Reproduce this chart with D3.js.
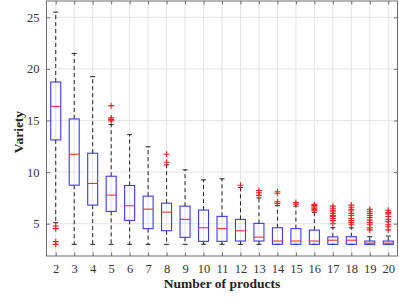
<!DOCTYPE html>
<html><head><meta charset="utf-8">
<script src="https://cdn.jsdelivr.net/npm/d3@7"></script>
<style>body{margin:0;background:#fff;}svg{display:block;}</style>
</head><body>
<svg id="chart" width="399" height="299"></svg>
<script>
const categories = [2,3,4,5,6,7,8,9,10,11,12,13,14,15,16,17,18,19,20];
const whiskerLow = [5.1,3.0,3.0,3.0,3.0,3.0,3.0,3.0,3.0,3.0,3.0,3.0,3.0,3.0,3.0,3.0,3.0,3.0,3.0];
const q1 = [13.12,8.73,6.8,6.19,5.32,4.52,4.32,3.68,3.29,3.29,3.32,3.32,3.0,3.0,3.0,3.0,3.0,3.0,3.0];
const medians = [16.37,11.73,8.9,7.77,6.74,6.41,6.12,5.42,4.61,4.52,4.32,3.7,3.32,3.32,3.32,3.4,3.4,3.12,3.12];
const q3 = [18.73,15.15,11.83,9.6,8.7,7.67,6.99,6.7,6.32,5.71,5.42,5.03,4.61,4.52,4.38,3.72,3.74,3.32,3.32];
const whiskerHigh = [25.5,21.5,19.25,14.6,13.63,12.45,10.7,10.22,9.25,9.35,8.5,7.5,6.75,6.7,6.1,4.61,4.6,3.74,3.8];
const outliers = [
  [4.77,4.52,3.26,3.0],
  [], [],
  [16.44,15.25,15.09,14.96],
  [], [],
  [11.73,10.96],
  [], [], [],
  [8.73],
  [8.22,8.0,7.74],
  [8.1,7.95,7.13,6.97],
  [7.05,6.9],
  [6.87,6.75,6.62,6.5,6.37,6.25],
  [6.7,6.5,6.3,6.2,6.0,5.8,5.7,5.5,5.3,5.0],
  [6.8,6.6,6.4,6.25,6.0,5.8,5.5,5.3,5.1,4.9],
  [6.4,6.2,6.0,5.8,5.6,5.35,5.1,4.9,4.6,4.4],
  [6.3,6.1,5.95,5.7,5.4,5.2,4.9,4.7,4.4]
];
const yTicks = [5,10,15,20,25];
const xLabel = "Number of products";
const yLabel = "Variety";

const svg = d3.select("#chart");
const L = 46.5, R = 397.5, T = 1, B = 256;
const x = d3.scaleLinear().domain([1.5, 20.5]).range([L, R]);
const y = d3.scaleLinear().domain([1.87, 26.58]).range([B, T]);
const font = "'Liberation Serif','Times New Roman',serif";

// grid
svg.append("g").selectAll("line.gx").data(categories).join("line")
  .attr("x1", d => x(d)).attr("x2", d => x(d)).attr("y1", T).attr("y2", B)
  .attr("stroke", "#e3e3e3").attr("stroke-width", 1);
svg.append("g").selectAll("line.gy").data(yTicks).join("line")
  .attr("x1", L).attr("x2", R).attr("y1", d => y(d)).attr("y2", d => y(d))
  .attr("stroke", "#e3e3e3").attr("stroke-width", 1);

// axes
const axColor = "#6e6e6e";
const xAxisB = d3.axisBottom(x).tickValues(categories).tickSizeInner(-3.5).tickSizeOuter(0).tickPadding(8);
const gxB = svg.append("g").attr("transform", `translate(0,${B})`).call(xAxisB);
const xAxisT = d3.axisTop(x).tickValues(categories).tickSizeInner(-3.5).tickSizeOuter(0).tickFormat("");
const gxT = svg.append("g").attr("transform", `translate(0,${T})`).call(xAxisT);
const yAxisL = d3.axisLeft(y).tickValues(yTicks).tickSizeInner(-3.5).tickSizeOuter(0).tickPadding(7);
const gyL = svg.append("g").attr("transform", `translate(${L},0)`).call(yAxisL);
const yAxisR = d3.axisRight(y).tickValues(yTicks).tickSizeInner(-3.5).tickSizeOuter(0).tickFormat("");
const gyR = svg.append("g").attr("transform", `translate(${R},0)`).call(yAxisR);
[gxB, gxT, gyL, gyR].forEach(g => {
  g.select(".domain").remove();
  g.selectAll(".tick line").attr("stroke", axColor);
  g.selectAll("text").attr("font-family", font).attr("font-size", 12.5).attr("fill", "#333");
});
svg.append("rect").attr("x", L).attr("y", T).attr("width", R - L).attr("height", B - T)
  .attr("fill", "none").attr("stroke", axColor).attr("stroke-width", 1);

// boxes
const bw = 10, cw = 5;
const g = svg.append("g");
categories.forEach((c, i) => {
  const cx = x(c);
  // whiskers
  g.append("line").attr("x1", cx).attr("x2", cx).attr("y1", y(q3[i])).attr("y2", y(whiskerHigh[i]))
    .attr("stroke", "#222").attr("stroke-dasharray", "4,3");
  g.append("line").attr("x1", cx).attr("x2", cx).attr("y1", y(q1[i])).attr("y2", y(whiskerLow[i]))
    .attr("stroke", "#222").attr("stroke-dasharray", "4,3");
  g.append("line").attr("x1", cx - cw/2).attr("x2", cx + cw/2).attr("y1", y(whiskerHigh[i])).attr("y2", y(whiskerHigh[i]))
    .attr("stroke", "#222");
  g.append("line").attr("x1", cx - cw/2).attr("x2", cx + cw/2).attr("y1", y(whiskerLow[i])).attr("y2", y(whiskerLow[i]))
    .attr("stroke", "#222");
  // box
  g.append("rect").attr("x", cx - bw/2).attr("y", y(q3[i])).attr("width", bw)
    .attr("height", Math.max(0.5, y(q1[i]) - y(q3[i])))
    .attr("fill", "none").attr("stroke", "#3a3af0").attr("stroke-width", 1.1);
  // median
  g.append("line").attr("x1", cx - bw/2).attr("x2", cx + bw/2).attr("y1", y(medians[i])).attr("y2", y(medians[i]))
    .attr("stroke", "#ee3030").attr("stroke-width", 1.1);
  // outliers
  outliers[i].forEach(v => {
    const py = y(v);
    g.append("path").attr("d", `M${cx-3},${py}H${cx+3}M${cx},${py-3}V${py+3}`)
      .attr("stroke", "#ee2020").attr("stroke-width", 1.1).attr("fill", "none");
  });
});

// labels
svg.append("text").attr("x", (L + R) / 2).attr("y", 288).attr("text-anchor", "middle")
  .attr("font-family", font).attr("font-size", 13.5).attr("font-weight", "bold").attr("fill", "#222")
  .text(xLabel);
svg.append("text").attr("transform", `translate(23,132) rotate(-90)`).attr("text-anchor", "middle")
  .attr("font-family", font).attr("font-size", 13.5).attr("font-weight", "bold").attr("fill", "#222")
  .text(yLabel);
</script>
</body></html>
